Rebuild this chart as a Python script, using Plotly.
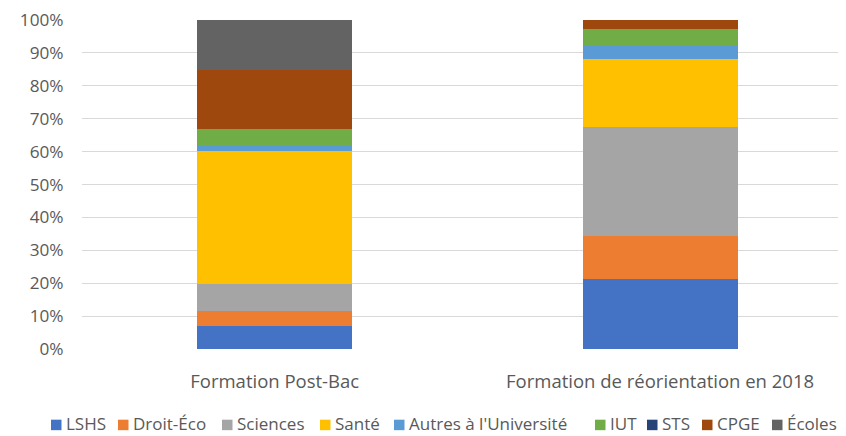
import plotly.graph_objects as go

categories = ["Formation Post-Bac", "Formation de réorientation en 2018"]
series_names = ["LSHS", "Droit-Éco", "Sciences", "Santé", "Autres à l'Université", "IUT", "STS", "CPGE", "Écoles"]
lshs = [6.9, 21.4]
droit_eco = [4.5, 12.9]
sciences = [8.5, 33.3]
sante = [40.2, 20.5]
autres_univ = [1.7, 3.9]
iut = [5.1, 5.4]
sts = [0.0, 0.0]
cpge = [18.0, 2.6]
ecoles = [15.1, 0.0]
y_ticks = [0, 10, 20, 30, 40, 50, 60, 70, 80, 90, 100]

series_values = [lshs, droit_eco, sciences, sante, autres_univ, iut, sts, cpge, ecoles]
colors = ["#4472C4", "#ED7D31", "#A5A5A5", "#FFC000", "#5B9BD5", "#70AD47", "#264478", "#9E480E", "#636363"]

# The page body has an 8px margin, so figure coords = screen coords - 8
OFF = 8
W, H = 846 - OFF, 436 - OFF
ML, MR, MT = 82 - OFF, 0, 20 - OFF
MB = H - (349.3 - OFF)
font_family = "'Open Sans', sans-serif"
text_color = "#595959"
fs = 18.5
yfs = 17.2
lfs = 17

fig = go.Figure()
for name, vals, col in zip(series_names, series_values, colors):
    fig.add_trace(go.Bar(
        name=name, x=categories, y=vals,
        marker=dict(color=col, line=dict(width=0)),
        width=0.402, showlegend=False,
    ))

# Custom single-row legend (Excel style: small square + text), screen px
legend_px = [51, 118, 222, 320, 394, 595, 647, 702, 772]
legend_y_px = 424.3
sq = 10.5
pw = W - ML - MR
ph = H - MT - MB
def px2x(p):
    return (p - OFF - ML) / pw
def py2y(p):
    return (H - MB - (p - OFF)) / ph
shapes = []
annotations = []
for name, col, lx in zip(series_names, colors, legend_px):
    shapes.append(dict(type="rect", xref="paper", yref="paper",
                       x0=px2x(lx), x1=px2x(lx + sq),
                       y0=py2y(legend_y_px + 1 + sq / 2), y1=py2y(legend_y_px + 1 - sq / 2),
                       fillcolor=col, line=dict(width=0)))
    annotations.append(dict(xref="paper", yref="paper", x=px2x(lx + sq + 2), y=py2y(legend_y_px),
                            xanchor="left", yanchor="middle", text=name, showarrow=False,
                            font=dict(family=font_family, size=lfs, color=text_color)))

fig.update_layout(
    barmode="stack",
    width=W, height=H,
    margin=dict(l=ML, r=MR, t=MT, b=MB),
    paper_bgcolor="white", plot_bgcolor="white",
    font=dict(family=font_family, size=fs, color=text_color),
    showlegend=False,
    shapes=shapes,
    annotations=annotations,
    xaxis=dict(range=[-0.5, 1.4825], showgrid=False, showline=False, zeroline=False,
               ticks="outside", ticklen=16, tickcolor="rgba(0,0,0,0)", automargin=False,
               ticklabeloverflow="allow",
               tickfont=dict(size=fs, color=text_color)),
    yaxis=dict(range=[0, 100], tickvals=y_ticks, ticktext=[f"{v}%" for v in y_ticks],
               showgrid=True, gridcolor="#D9D9D9", gridwidth=1.3, zeroline=False,
               showline=False, ticks="outside", ticklen=14, tickcolor="rgba(0,0,0,0)",
               automargin=False, ticklabeloverflow="allow",
               tickfont=dict(size=yfs, color=text_color)),
)

fig.write_html("out.html")
